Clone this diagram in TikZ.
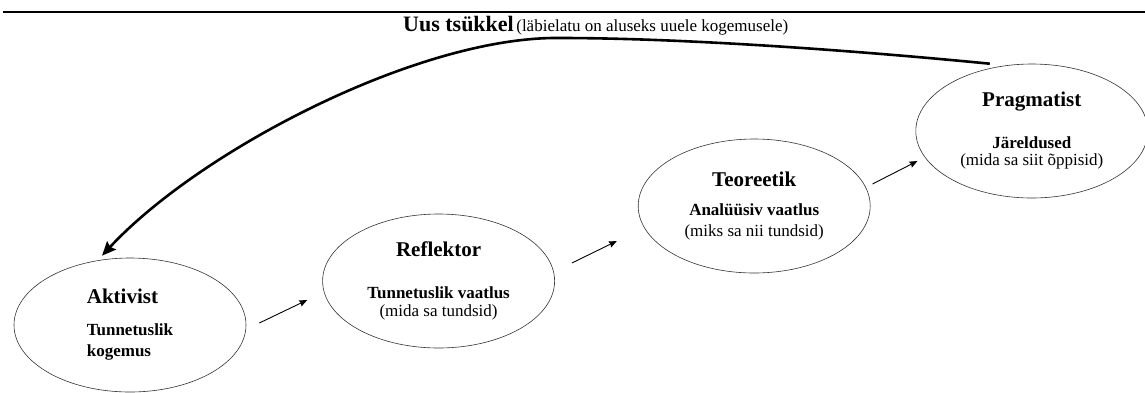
\documentclass[tikz,border=0pt]{standalone}
\usepackage{fontspec}
\setmainfont{Liberation Serif}
\usetikzlibrary{arrows,arrows.meta,positioning,shapes.geometric}

\newcommand{\phasename}{\fontsize{21}{24}\selectfont\bfseries}
\newcommand{\phasesub}{\fontsize{17}{19}\selectfont\bfseries}
\newcommand{\cyclename}{\fontsize{22}{24}\selectfont\bfseries}

\tikzset{
  phase/.style={draw=black!80, line width=0.6pt, ellipse, inner sep=0pt,
    minimum width=232pt, minimum height=134pt, align=center,
    font=\fontsize{17}{19}\selectfont},
  step arrow/.style={-{Stealth[length=8pt,width=6.5pt,inset=1pt]}, line width=0.9pt},
  cycle arrow/.style={-{Stealth[length=14pt,width=12pt,inset=2pt]}, line width=2.6pt}
}

\begin{document}
\begin{tikzpicture}[>=stealth', x=1pt, y=-1pt]
  \useasboundingbox (0,0) rectangle (1145,392);
  \draw[line width=1.6pt] (3,12) -- (1145,12);
  \node[anchor=base west, inner sep=0pt] (cycle) at (403,31)
    {{\cyclename Uus tsükkel} {\fontsize{17}{19}\selectfont (läbielatu on aluseks uuele kogemusele)}};

  \node[phase, align=left] (akt) at (130,325)
    {{\phasename Aktivist}\\[13pt]{\phasesub Tunnetuslik}\\[2pt]{\phasesub kogemus}};
  \node[phase] (refl) [right=76pt of akt, yshift=44pt]
    {{\phasename Reflektor}\\[23pt]{\phasesub Tunnetuslik vaatlus}\\[-1pt](mida sa tundsid)};
  \node[phase] (teo) [right=83pt of refl, yshift=75pt]
    {{\phasename Teoreetik}\\[10pt]{\phasesub Analüüsiv vaatlus}\\[2pt](miks sa nii tundsid)};
  \node[phase] (prag) [right=45pt of teo, yshift=75pt]
    {{\phasename Pragmatist}\\[23pt]{\phasesub Järeldused}\\[-2pt](mida sa siit õppisid)};

  \draw[step arrow] ([shift={(13,-2)}]akt.east) -- ([shift={(-15,19)}]refl.west);
  \draw[step arrow] ([shift={(17,-18)}]refl.east) -- ([shift={(-21,35)}]teo.west);
  \draw[step arrow] ([shift={(2,-22)}]teo.east) -- ([shift={(2,30)}]prag.west);

  \draw[cycle arrow] ([xshift=-42pt]prag.north)
    .. controls (850,50) and (680,38) .. (560,38)
    .. controls (420,36) and (200,150) .. ([shift={(-28,-2)}]akt.north);
\end{tikzpicture}
\end{document}
